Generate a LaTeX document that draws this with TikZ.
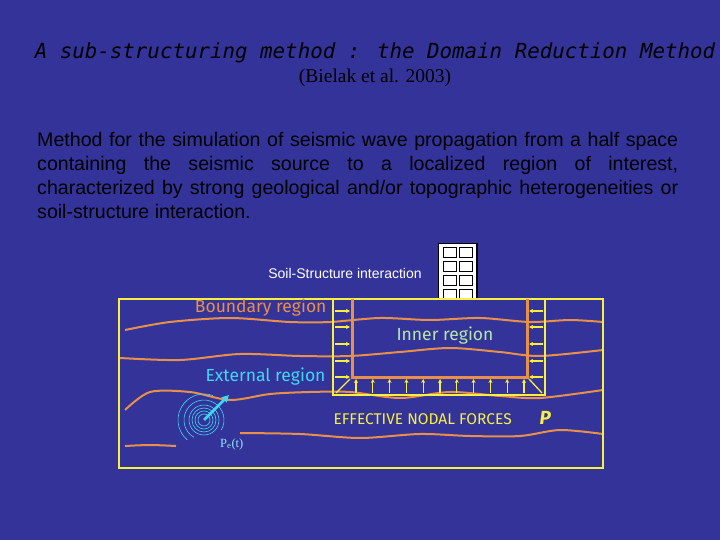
\documentclass[tikz,border=0pt]{standalone}
\usepackage{fontspec}
\usetikzlibrary{arrows.meta}
\setmainfont{Liberation Sans}
\newfontfamily\serf{Liberation Serif}
\newfontfamily\monof{DejaVu Sans Mono}
\newfontfamily\comic{Fira Sans}
\definecolor{bgc}{HTML}{333399}
\definecolor{yel}{HTML}{F8F040}
\definecolor{ora}{HTML}{E8904A}
\definecolor{grn}{HTML}{B8E8A8}
\definecolor{cya}{HTML}{40D8F0}
\begin{document}
\begin{tikzpicture}[x=1pt,y=-1pt,
  wave/.style={draw=ora,line width=2pt,smooth},
  ya/.style={yel,line width=1.3pt,-{Stealth[length=4pt,width=4pt]}}]
\fill[bgc] (0,0) rectangle (720,540);
\useasboundingbox (0,0) rectangle (720,540);
\node[anchor=base,font=\monof\itshape\fontsize{20.8}{24}\selectfont] (title) at (375,59) {A sub-structuring method : the Domain Reduction Method};
\node[anchor=base,font=\serf\fontsize{19.5}{22}\selectfont] (cite) at (375,83) {(Bielak et al. 2003)};
\node[anchor=north west,inner sep=0pt,text width=641pt,align=justify,font=\fontsize{19.6}{24}\selectfont] (para) at (37,132)
{Method for the simulation of seismic wave propagation from a half space\linebreak containing the seismic source to a localized region of interest,\linebreak characterized by strong geological and/or topographic heterogeneities or\linebreak soil-structure interaction.};
% waves
\begin{scope}
\clip (119,299) rectangle (603,468);
\draw[wave] plot coordinates {(125,330) (170,322) (230,318) (290,322) (330,322) (380,318) (430,320) (480,318) (530,322) (570,320) (603,322)};
\draw[wave] plot coordinates {(120,358) (180,360) (240,354) (300,356) (350,356) (400,352) (450,348) (500,352) (540,356) (603,350)};
\draw[wave] plot coordinates {(125,410) (150,392) (190,392) (230,400) (270,394) (310,392) (350,392) (400,398) (450,392) (500,396) (540,398) (603,390)};
\draw[wave] plot coordinates {(240,433) (300,434) (360,438) (420,434) (470,436) (520,436) (560,430) (603,434)};
\draw[wave] plot coordinates {(125,446) (150,445) (176,446)};
\end{scope}
% building
\draw[black,fill=white,line width=1pt] (438,243) rectangle (477,299);
\draw[black,line width=2pt] (477,243) -- (477,299);
\foreach \r in {0,1,2,3}{
  \draw[black,line width=0.8pt] (443,{247+\r*14}) rectangle (456,{257+\r*14});
  \draw[black,line width=0.8pt] (459,{247+\r*14}) rectangle (472,{257+\r*14});
}
\node[anchor=base,font=\fontsize{14}{16}\selectfont,text=white] (ssi) at (345,278) {Soil-Structure interaction};
% regions
\draw[yel,line width=2.5pt] (119,299) rectangle (603,468);
\draw[yel,line width=2pt] (333,299) rectangle (545,395);
\draw[ora,line width=3pt] (352,299) -- (352,377) -- (527,377) -- (527,299);
\foreach \y in {311,327,344,361,377}{
  \draw[ya] (335,\y) -- (350,\y);
  \draw[ya] (543,\y) -- (529,\y);
}
\foreach \i in {0,...,10}{
  \draw[ya] ({356+\i*16.8},393) -- ({356+\i*16.8},379);
}
\draw[yel,line width=1.3pt] (336,393) -- (350,379);
\draw[yel,line width=1.3pt] (542,393) -- (529,379);
\node[anchor=base east,font=\comic\fontsize{17.5}{20}\selectfont,text=ora] (br) at (330,312) {Boundary region};
\node[anchor=base,font=\comic\fontsize{17.5}{20}\selectfont,text=grn] (ir) at (445,340) {Inner region};
\node[anchor=base east,font=\comic\fontsize{17.5}{20}\selectfont,text=cya] (er) at (329,381) {External region};
\node[anchor=base west,font=\comic\fontsize{15.5}{18}\selectfont,text=yel] (enf) at (330,424) {EFFECTIVE NODAL FORCES};
\node[anchor=base west,font=\comic\bfseries\itshape\fontsize{19}{20}\selectfont,text=yel] (P) at (536,424) {P};
% source
\coordinate (src) at (204,420);
\foreach \r in {6,9,12,15}{\draw[cya,line width=0.6pt] (src) circle (\r);}
\draw[cya,line width=0.6pt] (src) ++(120:20) arc (120:300:20);
\draw[cya,line width=0.6pt] (src) ++(130:26) arc (130:290:26);
\draw[cya,line width=0.6pt] (src) ++(-60:20) arc (-60:30:20);
\coordinate (tip) at (229,395);
\draw[cya,line width=2.5pt,-{Triangle[length=7pt,width=7pt]}] (src) -- (tip);
\node[anchor=base west,font=\serf\fontsize{12.5}{14}\selectfont,text=cya!60!white,inner sep=0pt] (pe) at (220,447) {P\textsubscript{e}(t)};
\end{tikzpicture}
\end{document}
